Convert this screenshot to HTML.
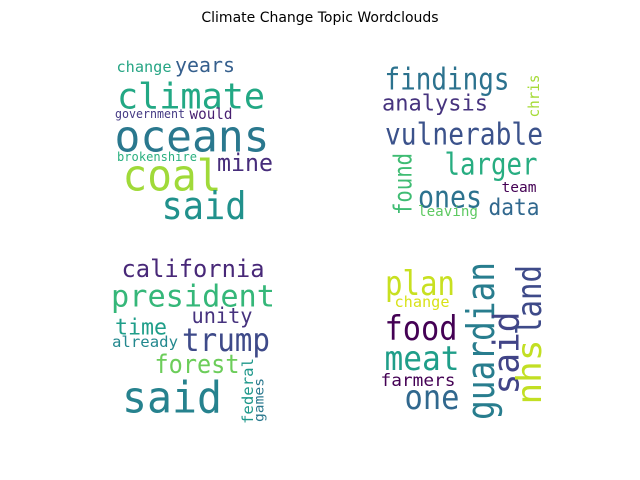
<!DOCTYPE html>
<html><head><meta charset="utf-8"><style>
html,body{margin:0;padding:0;background:#fff;}
svg{display:block;}
text{font-family:"DejaVu Sans Mono","Liberation Mono",monospace;}
</style></head><body>
<svg width="640" height="480" viewBox="0 0 640 480">
<text x="320" y="22" text-anchor="middle" font-family="DejaVu Sans, Liberation Sans, sans-serif" style="font-family:'DejaVu Sans','Liberation Sans',sans-serif" font-size="14" fill="#000">Climate Change Topic Wordclouds</text>
<g id="topics"></g>
</svg>
<script>
// words per topic: [word, cx, cy, width(along text), size, color, vertical]
const topic1 = [
["change",144,67,55,15,"#26a584",0],["years",205,65,60,20,"#355f8d",0],
["climate",191,97,148,36,"#22a884",0],["government",150,114,70,12,"#443983",0],
["would",211,114,43,15,"#481f70",0],["oceans",192,137,155,44,"#2a788e",0],
["brokenshire",157,157,80,12,"#2ab07f",0],["mine",245,163,56,24,"#472d7b",0],
["coal",172,176,99,44,"#a0da39",0],["said",204,206,85,38,"#21918c",0]];
const topic2 = [
["findings",447,80,125,30,"#2c728e",0],["chris",534,96,43,15,"#a5db36",1],
["analysis",435,104,106,22,"#46337e",0],["vulnerable",464,135,158,30,"#3b528b",0],
["larger",491,165,93,30,"#27ad81",0],["found",403,184,62,25,"#3fbc73",1],
["ones",450,198,64,30,"#2c728e",0],["team",519,188,35,14,"#440154",0],
["data",514,208,51,23,"#31688e",0],["leaving",448,212,60,14,"#5ec962",0]];
const topic3 = [
["california",193,269,143,24,"#482878",0],["president",193,297,164,30,"#35b779",0],
["unity",222,316,61,21,"#46327e",0],["time",141,328,52,22,"#1f9e89",0],
["trump",226,340,88,32,"#3e4a89",0],["already",145,342,66,15,"#23888e",0],
["forest",197,365,85,26,"#6ccd5a",0],["federal",248,391,66,15,"#1f988b",1],
["games",260,400,44,13,"#2a788e",1],["said",172,398,100,44,"#26828e",0]];
const topic4 = [
["plan",420,284,70,34,"#c8e020",0],["change",422,302,55,15,"#d8e219",0],
["food",421,329,73,34,"#440154",0],["meat",422,359,75,34,"#1f9e89",0],
["farmers",418,381,75,17,"#440154",0],["one",432,398,55,34,"#31688e",0],
["guardian",481,341,158,38,"#287d8e",1],["said",507,353,83,36,"#414487",1],
["land",530,300,70,34,"#3e4a89",1],["nhs",530,372,65,34,"#c2df23",1]];
const topics=[topic1,topic2,topic3,topic4];
const g=document.getElementById('topics');
const NS="http://www.w3.org/2000/svg";
topics.forEach((t,ti)=>{
  const grp=document.createElementNS(NS,'g');
  
  
  g.appendChild(grp);
  t.forEach(w=>{
    const el=document.createElementNS(NS,'text');
    el.textContent=w[0];
    el.setAttribute('x',0);el.setAttribute('y',0);
    el.setAttribute('text-anchor','middle');
    el.setAttribute('dominant-baseline','central');
    el.setAttribute('font-size',w[4]);
    el.setAttribute('fill',w[5]);
    el.setAttribute('textLength',w[3]);
    el.setAttribute('lengthAdjust','spacingAndGlyphs');
    el.setAttribute('transform','translate('+w[1]+','+w[2]+')'+(w[6]?' rotate(-90)':''));
    
    
    grp.appendChild(el);
  });
});
</script>
</body></html>
